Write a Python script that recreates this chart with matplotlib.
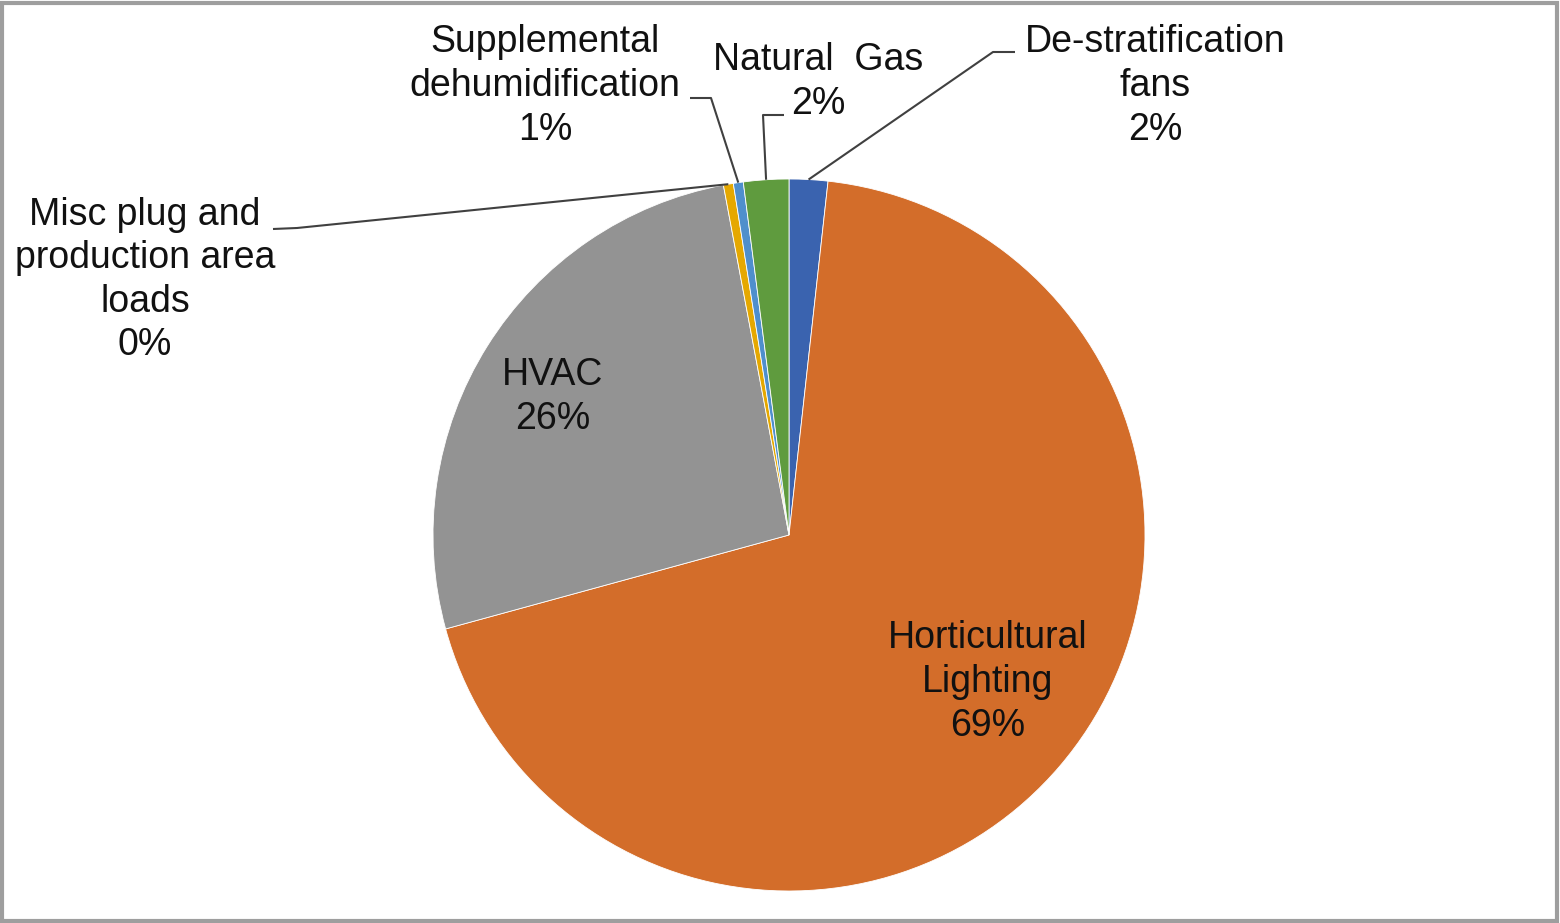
import numpy as np
import matplotlib.pyplot as plt
from matplotlib.patches import Rectangle

plt.rcParams["font.family"] = ["Liberation Sans", "DejaVu Sans"]

# Slices, clockwise from 12 o'clock
labels = ["De-stratification\nfans", "Horticultural\nLighting", "HVAC",
          "Misc plug and\nproduction area\nloads", "Supplemental\ndehumidification",
          "Natural  Gas"]
shares = [1.75, 69.0, 26.3, 0.45, 0.45, 2.05]
pct_text = ["2%", "69%", "26%", "0%", "1%", "2%"]
colors = ["#3A63AF", "#D36D2A", "#939393", "#E5A800", "#4F8FCC", "#5F9B3E"]

W, H = 1560, 923
fig = plt.figure(figsize=(W / 100, H / 100), dpi=100)
ax = fig.add_axes([0, 0, 1, 1])

cx, cy, r = 789, H - 535, 356
wedges, _ = ax.pie(shares, colors=colors, startangle=90, counterclock=False,
                   center=(cx, cy), radius=r,
                   wedgeprops=dict(edgecolor="white", linewidth=0.6))
ax.set_xlim(0, W)
ax.set_ylim(0, H)
ax.axis("off")


def edge_point(w, frac=0.5):
    ang = np.deg2rad(w.theta1 + (w.theta2 - w.theta1) * frac)
    return cx + r * np.cos(ang), cy + r * np.sin(ang)


fs = 27
# label centres (pixel coords, y from top) and leader-line knee points
text_pos = [(1155, 86), (988, 682), (553, 397), (145, 280), (545, 86), (818, 82)]
knees = {
    0: [(993, 52), (1015, 52)],
    3: [(297, 228), (273, 229)],
    4: [(711, 98), (690, 98)],
    5: [(763, 115), (784, 115)],
}

for i, (lab, pct) in enumerate(zip(labels, pct_text)):
    tx, ty = text_pos[i]
    ax.text(tx, H - ty, lab + "\n" + pct, ha="center", va="center",
            fontsize=fs, color="#111111", linespacing=1.27)
    if i in knees:
        ex, ey = edge_point(wedges[i])
        pts = [(ex, ey)] + [(x, H - y) for x, y in knees[i]]
        xs, ys = zip(*pts)
        ax.plot(xs, ys, color="#404040", lw=1.5, solid_capstyle="butt")

fig.patches.append(Rectangle((0.001, 0.002), 0.997, 0.995, transform=fig.transFigure,
                             fill=False, edgecolor="#9e9e9e", linewidth=3))

fig.savefig("out.png", dpi=100)
